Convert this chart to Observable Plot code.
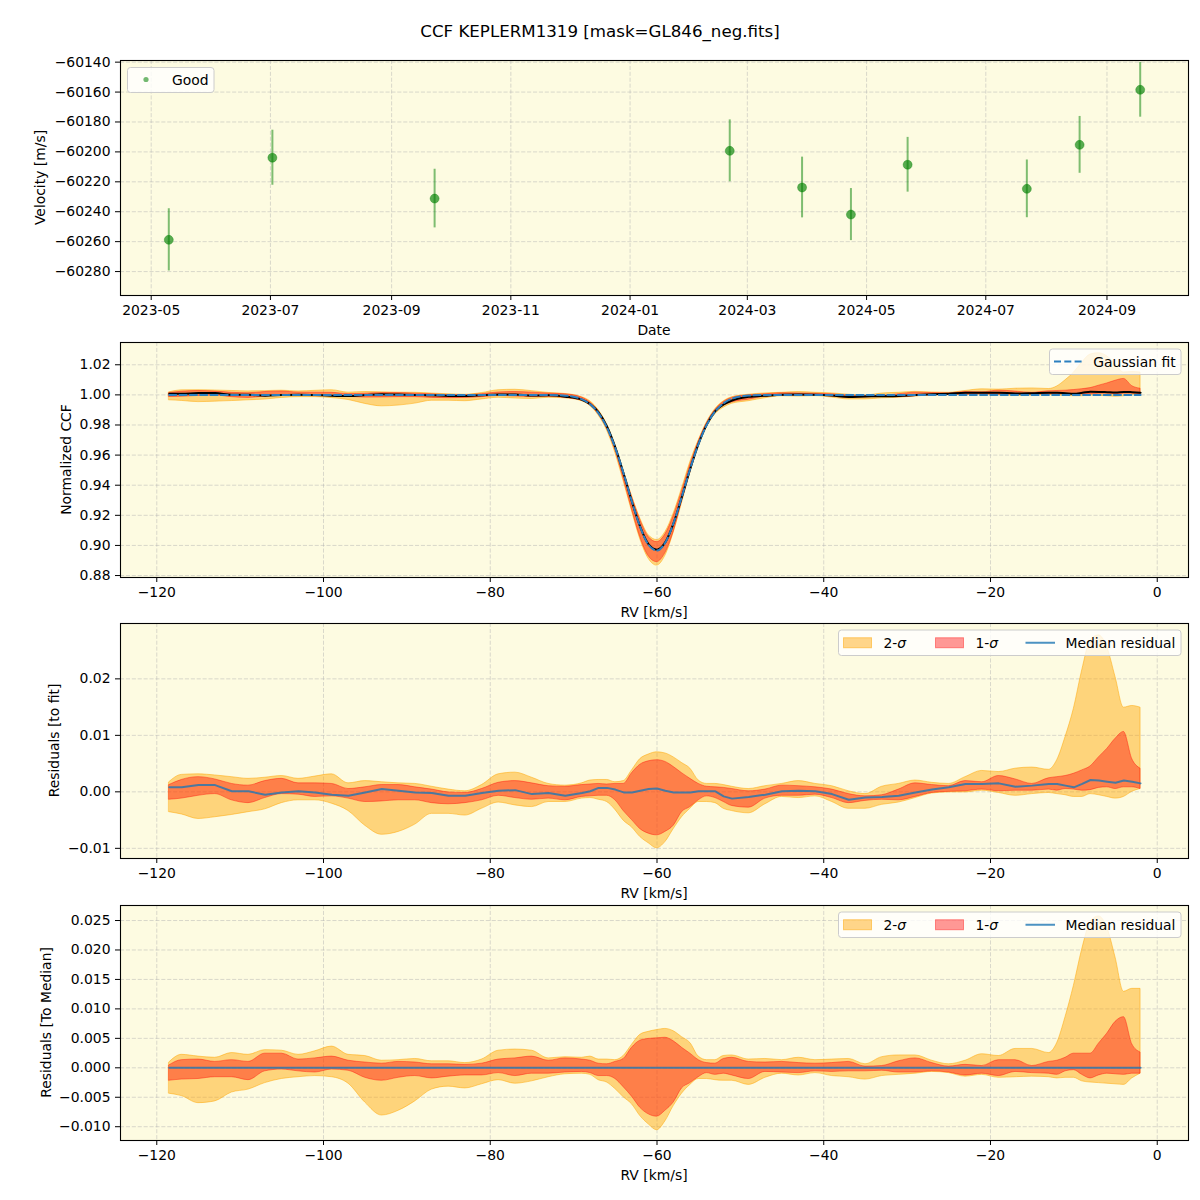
<!DOCTYPE html>
<html><head><meta charset="utf-8">
<script src="https://cdn.jsdelivr.net/npm/d3@7"></script>
<script src="https://cdn.jsdelivr.net/npm/@observablehq/plot@0.6"></script>
<style>
html,body{margin:0;padding:0;background:#fff;overflow:hidden}
#fig{position:relative;width:1200px;height:1200px;font-family:"DejaVu Sans",sans-serif;color:#000}
#title{position:absolute;top:22px;left:0;width:1200px;text-align:center;font-size:16.67px;line-height:20px}
#plots{position:absolute;top:50px;left:0;width:1200px}
#plots svg{display:block}
</style></head><body>
<div id="fig"><div id="title">CCF KEPLERM1319 [mask=GL846_neg.fits]</div><div id="plots"></div></div>
<script>
// ---------- data: RV time series ----------
const obsDates = ["2023-05-10","2023-07-02","2023-09-23","2024-02-21","2024-03-29","2024-04-23","2024-05-22","2024-07-22","2024-08-18","2024-09-18"];
const obsVel = [-60258.8,-60203.9,-60231.2,-60199.3,-60223.8,-60241.9,-60208.6,-60224.7,-60195.3,-60158.5];
const obsErr = [20.8,18.4,19.6,20.7,20.3,17.4,18.3,19.3,19.0,18.3];

// ---------- data: CCF profile grid (km/s) ----------
const rv = [-118.5,-117,-115,-113,-111,-109,-107,-105,-103,-101,-99,-97,-95,-93,-91,-89,-87,-85,-83,-81,-79,-77,-75,-73,-71,-69,-68,-67,-66,-65,-64,-63,-62,-61,-60,-59,-58,-57,-56,-55,-54,-53,-52,-51,-49,-47,-45,-43,-41,-39,-37,-35,-33,-31,-29,-27,-25,-23,-21,-19,-17,-15,-13,-12,-11,-10,-9,-8,-7,-6,-5,-4,-3,-2];
const fitCCF = [1,1,1,1,1,1,1,1,1,1,1,1,1,1,1,1,1,1,1,1,1,1,1,0.9999,0.9995,0.9970,0.9937,0.9877,0.9783,0.9647,0.9477,0.9290,0.9120,0.9002,0.8966,0.9020,0.9151,0.9327,0.9513,0.9677,0.9805,0.9892,0.9945,0.9975,0.9996,1,1,1,1,1,1,1,1,1,1,1,1,1,1,1,1,1,1,1,1,1,1,1,1,1,1,1,1,1];
const sig2Hi = [0.0017,0.0030,0.0031,0.0029,0.0026,0.0023,0.0025,0.0028,0.0023,0.0027,0.0031,0.0015,0.0019,0.0017,0.0015,0.0014,0.0009,0.0004,0.0001,0.0012,0.0031,0.0034,0.0025,0.0014,0.0011,0.0015,0.0020,0.0021,0.0021,0.0017,0.0019,0.0038,0.0058,0.0066,0.0070,0.0068,0.0061,0.0051,0.0041,0.0020,0.0014,0.0014,0.0012,0.0009,0.0005,0.0010,0.0014,0.0019,0.0014,0.0010,0.0001,-0.0004,0.0009,0.0014,0.0020,0.0016,0.0014,0.0026,0.0037,0.0035,0.0041,0.0043,0.0039,0.0056,0.0097,0.0147,0.0215,0.0268,0.0277,0.0256,0.0203,0.0149,0.0152,0.0149];
const sig2Lo = [-0.0036,-0.0040,-0.0048,-0.0045,-0.0041,-0.0036,-0.0031,-0.0020,-0.0015,-0.0015,-0.0021,-0.0034,-0.0060,-0.0076,-0.0071,-0.0058,-0.0039,-0.0039,-0.0042,-0.0030,-0.0019,-0.0024,-0.0027,-0.0018,-0.0018,-0.0012,-0.0011,-0.0014,-0.0018,-0.0032,-0.0051,-0.0063,-0.0080,-0.0091,-0.0100,-0.0089,-0.0066,-0.0045,-0.0030,-0.0018,-0.0018,-0.0020,-0.0030,-0.0034,-0.0038,-0.0022,-0.0009,-0.0011,-0.0008,-0.0018,-0.0030,-0.0030,-0.0023,-0.0019,-0.0011,-0.0003,-0.0001,-0.0001,0.0002,-0.0002,-0.0007,-0.0004,-0.0002,-0.0004,-0.0006,-0.0009,-0.0009,-0.0004,-0.0006,-0.0009,-0.0012,-0.0009,0.0000,0.0005];
const sig1Hi = [0.0012,0.0021,0.0026,0.0022,0.0014,0.0011,0.0019,0.0023,0.0015,0.0015,0.0014,0.0005,0.0008,0.0012,0.0012,0.0008,0.0004,-0.0001,-0.0002,0.0005,0.0016,0.0019,0.0015,0.0010,0.0009,0.0012,0.0013,0.0014,0.0013,0.0014,0.0014,0.0033,0.0048,0.0054,0.0056,0.0053,0.0044,0.0033,0.0023,0.0014,0.0009,0.0008,0.0007,0.0005,0.0001,0.0004,0.0011,0.0010,0.0008,0.0004,-0.0004,-0.0008,-0.0006,0.0004,0.0015,0.0012,0.0010,0.0019,0.0017,0.0028,0.0022,0.0014,0.0024,0.0026,0.0028,0.0032,0.0038,0.0045,0.0061,0.0076,0.0094,0.0106,0.0058,0.0041];
const sig1Lo = [-0.0014,-0.0012,-0.0007,-0.0004,-0.0015,-0.0020,-0.0011,-0.0004,-0.0005,-0.0009,-0.0008,-0.0012,-0.0018,-0.0017,-0.0015,-0.0015,-0.0020,-0.0022,-0.0020,-0.0015,-0.0007,-0.0011,-0.0014,-0.0012,-0.0015,-0.0009,-0.0008,-0.0007,-0.0007,-0.0015,-0.0034,-0.0050,-0.0066,-0.0074,-0.0077,-0.0071,-0.0060,-0.0036,-0.0027,-0.0015,-0.0008,-0.0011,-0.0018,-0.0025,-0.0028,-0.0012,-0.0007,-0.0007,-0.0005,-0.0011,-0.0020,-0.0016,-0.0014,-0.0015,-0.0009,-0.0002,0.0000,0.0001,0.0004,0.0001,0.0002,0.0002,0.0004,0.0002,0.0005,0.0004,0.0002,0.0003,0.0007,0.0008,0.0005,0.0008,0.0008,0.0005];
const medRes = [0.0008,0.0008,0.0012,0.0012,0.0001,0.0001,-0.0005,-0.0001,0.0001,-0.0001,-0.0005,-0.0007,-0.0001,0.0005,0.0002,-0.0001,-0.0002,-0.0007,-0.0007,-0.0002,0.0002,0.0003,-0.0004,-0.0002,-0.0007,-0.0002,0.0001,0.0007,0.0007,0.0004,-0.0001,-0.0001,0.0002,0.0005,0.0006,0.0002,-0.0001,-0.0001,-0.0001,0.0001,0.0001,0.0001,-0.0008,-0.0012,-0.0009,-0.0005,0.0001,0.0002,0.0001,-0.0004,-0.0014,-0.0010,-0.0009,-0.0007,-0.0001,0.0004,0.0008,0.0014,0.0014,0.0015,0.0009,0.0011,0.0014,0.0014,0.0011,0.0008,0.0014,0.0021,0.0020,0.0018,0.0016,0.0020,0.0018,0.0015];

// ---------- tick values ----------
const dateTicks = ["2023-05-01","2023-07-01","2023-09-01","2023-11-01","2024-01-01","2024-03-01","2024-05-01","2024-07-01","2024-09-01"];
const velTicks = [-60280,-60260,-60240,-60220,-60200,-60180,-60160,-60140];
const rvTicks = [-120,-100,-80,-60,-40,-20,0];
const ccfTicks = [0.88,0.90,0.92,0.94,0.96,0.98,1.00,1.02];
const resTicks = [-0.01,0.00,0.01,0.02];
const medTicks = [-0.010,-0.005,0.000,0.005,0.010,0.015,0.020,0.025];

// ---------- derived tables ----------
const obs = obsDates.map((d, i) => ({date: new Date(d + "T00:00:00Z"), v: obsVel[i], lo: obsVel[i] - obsErr[i], hi: obsVel[i] + obsErr[i]}));
const prof = rv.map((x, i) => ({
  rv: x, fit: fitCCF[i], ccf: fitCCF[i] + medRes[i],
  c2lo: fitCCF[i] + sig2Lo[i], c2hi: fitCCF[i] + sig2Hi[i],
  c1lo: fitCCF[i] + sig1Lo[i], c1hi: fitCCF[i] + sig1Hi[i],
  r2lo: sig2Lo[i], r2hi: sig2Hi[i], r1lo: sig1Lo[i], r1hi: sig1Hi[i], med: medRes[i],
  m2lo: sig2Lo[i] - medRes[i], m2hi: sig2Hi[i] - medRes[i],
  m1lo: sig1Lo[i] - medRes[i], m1hi: sig1Hi[i] - medRes[i], zero: 0
}));

// ---------- styling ----------
const BG = "#fdfbe1", GRID = "#b0b0b0", ORANGE = "#ffa500", RED = "#ff0000", C0 = "#1f77b4";
const FONT = "DejaVu Sans", FS = "13.9px";
const minus = s => s.replace("-", "\u2212");
const rvDomain = [-124.35, 3.75];

function gridMarks(xt, yt) {
  const o = {stroke: GRID, strokeOpacity: 0.6, strokeWidth: 0.8, strokeDasharray: "4.1,1.8"};
  return [Plot.ruleX(xt, o), Plot.ruleY(yt, o)];
}

function panel({height, mt, mb, x, y, xTicks, xFmt, yTicks, yFmt, marks, xLabel, yLabel, yLabelX}) {
  const svg = Plot.plot({
    width: 1200, height, marginLeft: 120, marginRight: 12, marginTop: mt, marginBottom: mb,
    style: {fontFamily: FONT, fontSize: FS, background: "white", color: "black"},
    x, y,
    marks: [
      Plot.frame({fill: BG, stroke: null}),
      ...gridMarks(xTicks, yTicks),
      ...marks,
      Plot.frame({stroke: "black", strokeWidth: 1.1}),
      Plot.axisX(xTicks, {tickFormat: xFmt, tickSize: 5, tickPadding: 5, label: null, fontSize: FS}),
      Plot.axisY(yTicks, {tickFormat: yFmt, tickSize: 5, tickPadding: 5, label: null, fontSize: FS})
    ]
  });
  const s = d3.select(svg);
  const fb = height - mb; // frame bottom in svg coords
  s.append("text").attr("x", 654).attr("y", fb + 40).attr("text-anchor", "middle")
    .attr("fill", "black").style("font-size", FS).text(xLabel);
  s.append("text").attr("transform", `translate(${yLabelX},${mt + 117.5}) rotate(-90)`)
    .attr("text-anchor", "middle").attr("fill", "black").style("font-size", FS).text(yLabel);
  document.getElementById("plots").appendChild(svg);
  return s;
}

function legendBox(s, x, y, w, h) {
  s.append("rect").attr("x", x).attr("y", y).attr("width", w).attr("height", h).attr("rx", 3)
    .attr("fill", "white").attr("fill-opacity", 0.8).attr("stroke", "#cccccc").attr("stroke-width", 1);
}
function legendText(s, x, y, parts) {
  const t = s.append("text").attr("x", x).attr("y", y).attr("fill", "black")
    .attr("text-anchor", "start").style("font-size", FS);
  parts.forEach(p => { const ts = t.append("tspan").text(p.t); if (p.i) ts.style("font-style", "italic"); });
}
function bandLegend(s, mt) {
  const bx = 838.5, by = mt + 7, cy = by + 12.75;
  legendBox(s, bx, by, 342.5, 25.5);
  s.append("rect").attr("x", 843.5).attr("y", cy - 5).attr("width", 28).attr("height", 10)
    .attr("fill", ORANGE).attr("fill-opacity", 0.45).attr("stroke", ORANGE).attr("stroke-opacity", 0.5);
  legendText(s, 883.5, cy + 5, [{t: "2-"}, {t: "σ", i: true}]);
  s.append("rect").attr("x", 935.5).attr("y", cy - 5).attr("width", 28).attr("height", 10)
    .attr("fill", RED).attr("fill-opacity", 0.4).attr("stroke", RED).attr("stroke-opacity", 0.4);
  legendText(s, 975.5, cy + 5, [{t: "1-"}, {t: "σ", i: true}]);
  s.append("line").attr("x1", 1025.5).attr("x2", 1055).attr("y1", cy).attr("y2", cy)
    .attr("stroke", C0).attr("stroke-opacity", 0.8).attr("stroke-width", 2);
  legendText(s, 1065.5, cy + 5, [{t: "Median residual"}]);
}

const bandMarks = (lo2, hi2, lo1, hi1) => [
  Plot.areaY(prof, {x: "rv", y1: lo2, y2: hi2, fill: ORANGE, fillOpacity: 0.45, stroke: ORANGE, strokeOpacity: 0.5, strokeWidth: 1, curve: "monotone-x"}),
  Plot.areaY(prof, {x: "rv", y1: lo1, y2: hi1, fill: RED, fillOpacity: 0.4, stroke: RED, strokeOpacity: 0.4, strokeWidth: 1, curve: "monotone-x"})
];

// ---------- Panel 1: RV time series (page y 50..340) ----------
const p1 = panel({
  height: 290, mt: 10, mb: 45,
  x: {type: "utc", domain: [new Date("2023-04-15T07:00:00Z"), new Date("2024-10-12T17:00:00Z")]},
  y: {domain: [-60296, -60138.9]},
  xTicks: dateTicks.map(d => new Date(d + "T00:00:00Z")), xFmt: d3.utcFormat("%Y-%m"),
  yTicks: velTicks, yFmt: d => minus(String(d)),
  marks: [
    Plot.ruleX(obs, {x: "date", y1: "lo", y2: "hi", stroke: "green", strokeOpacity: 0.5, strokeWidth: 2, clip: true}),
    Plot.dot(obs, {x: "date", y: "v", r: 4.5, fill: "green", fillOpacity: 0.65, stroke: "green", strokeOpacity: 0.35, strokeWidth: 1})
  ],
  xLabel: "Date", yLabel: "Velocity [m/s]", yLabelX: 44.5
});
legendBox(p1, 127.5, 17.5, 86.5, 25);
p1.append("circle").attr("cx", 146).attr("cy", 29.5).attr("r", 2.6).attr("fill", "green").attr("fill-opacity", 0.55);
legendText(p1, 172, 34.5, [{t: "Good"}]);

// ---------- Panel 2: normalized CCF (page y 340..620) ----------
const p2 = panel({
  height: 280, mt: 2, mb: 43,
  x: {domain: rvDomain}, y: {domain: [0.8787, 1.0348]},
  xTicks: rvTicks, xFmt: d => minus(String(d)),
  yTicks: ccfTicks, yFmt: d => d.toFixed(2),
  marks: [
    ...bandMarks("c2lo", "c2hi", "c1lo", "c1hi"),
    Plot.line(prof, {x: "rv", y: "ccf", stroke: "black", strokeWidth: 2, curve: "monotone-x"}),
    Plot.line(prof, {x: "rv", y: "fit", stroke: "#2b7fc0", strokeWidth: 2, strokeDasharray: "7,3.3", curve: "monotone-x"})
  ],
  xLabel: "RV [km/s]", yLabel: "Normalized CCF", yLabelX: 70.6
});
legendBox(p2, 1049.5, 9, 131.5, 25.5);
p2.append("line").attr("x1", 1054).attr("x2", 1083).attr("y1", 21.5).attr("y2", 21.5)
  .attr("stroke", "#2b7fc0").attr("stroke-width", 2).attr("stroke-dasharray", "7,3.3");
legendText(p2, 1093.3, 26.5, [{t: "Gaussian fit"}]);

// ---------- Panel 3: residuals to fit (page y 620..900) ----------
const p3 = panel({
  height: 280, mt: 3, mb: 42,
  x: {domain: rvDomain}, y: {domain: [-0.0118, 0.0298]},
  xTicks: rvTicks, xFmt: d => minus(String(d)),
  yTicks: resTicks, yFmt: d => minus(d.toFixed(2)),
  marks: [
    ...bandMarks("r2lo", "r2hi", "r1lo", "r1hi"),
    Plot.line(prof, {x: "rv", y: "med", stroke: C0, strokeOpacity: 0.8, strokeWidth: 2})
  ],
  xLabel: "RV [km/s]", yLabel: "Residuals [to fit]", yLabelX: 58.5
});
bandLegend(p3, 3);

// ---------- Panel 4: residuals to median (page y 900..1200) ----------
const p4 = panel({
  height: 300, mt: 5, mb: 60,
  x: {domain: rvDomain}, y: {domain: [-0.01234, 0.02755]},
  xTicks: rvTicks, xFmt: d => minus(String(d)),
  yTicks: medTicks, yFmt: d => minus(d.toFixed(3)),
  marks: [
    ...bandMarks("m2lo", "m2hi", "m1lo", "m1hi"),
    Plot.line(prof, {x: "rv", y: "zero", stroke: C0, strokeOpacity: 0.8, strokeWidth: 2})
  ],
  xLabel: "RV [km/s]", yLabel: "Residuals [To Median]", yLabelX: 50.8
});
bandLegend(p4, 5);
</script>
</body></html>
